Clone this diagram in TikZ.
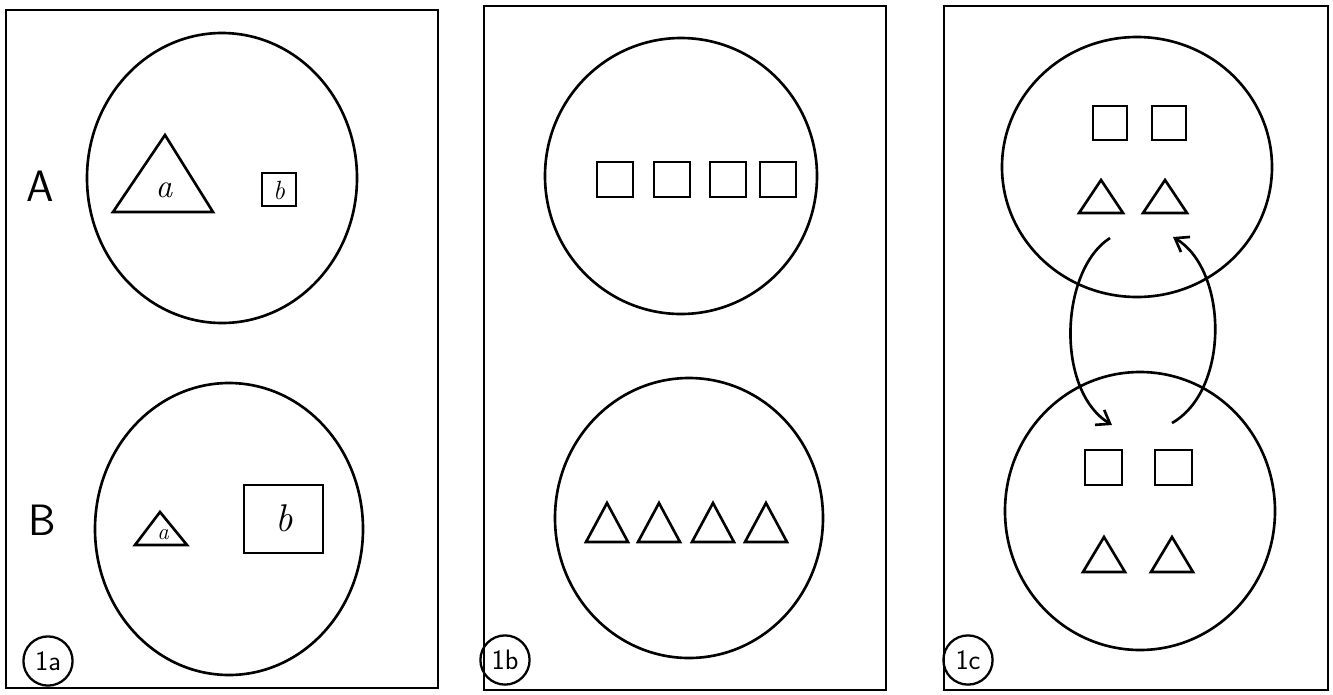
\documentclass[tikz,border=0pt]{standalone}
\usepackage{tikz}
\usetikzlibrary{arrows.meta}

\tikzset{
  panellabel/.style={draw,circle,line width=1.3pt,minimum size=28pt,inner sep=0pt,font=\sffamily\fontsize{16}{17}\selectfont},
  setlabel/.style={font=\sffamily\fontsize{25}{28}\selectfont},
  letter/.style={font=\itshape\fontsize{#1}{#1}\selectfont,inner sep=0pt}
}

\begin{document}
\begin{tikzpicture}[x=0.02cm,y=-0.02cm,line width=1.5pt,>={Straight Barb[length=7pt,width=10pt]}]
        \useasboundingbox (0,0) rectangle (1333,694);
        % 1a
        \draw (6,10) rectangle (438,688);
        \node[setlabel] (lA) at (40,186) {A};
        \node[setlabel] (lB) at (42,520) {B};
        \draw (222,178) ellipse [x radius=135,y radius=145];
        \draw (113,212) -- (165,135) -- (213,212) -- cycle;
        \node[letter=19] (aA) at (164,190) {a};
        \draw (262,173) rectangle (296,206);
        \node[letter=15] (bA) at (279,190) {b};
        \draw (229,529) ellipse [x radius=134,y radius=146];
        \draw (135,545) -- (160,512) -- (187,545) -- cycle;
        \node[letter=13] (aB) at (163,535) {a};
        \draw (244,485) rectangle (323,553);
        \node[letter=22] (bB) at (284,518) {b};
        \node[panellabel] (p1a) at (48,661) {1a};
        % 1b
        \draw (484,6) rectangle (886,690);
        \draw (681,176) ellipse [x radius=136,y radius=138];
        \foreach \x in {597,654,710,760}
            \draw (\x,162) rectangle ++(36,35);
        \draw (689,518) ellipse [x radius=134,y radius=140];
        \foreach \x in {586,638,692,745}
            \draw (\x,542) -- ++(21,-39) -- ++(21,39) -- cycle;
        \node[panellabel] (p1b) at (505,660) {1b};
        % 1c
        \draw (944,6) rectangle (1328,690);
        \draw (1137,167) ellipse [x radius=135,y radius=130];
        \foreach \x in {1093,1152}
            \draw (\x,106) rectangle ++(34,34);
        \foreach \x in {1079,1143}
            \draw (\x,213) -- ++(22,-33) -- ++(22,33) -- cycle;
        \draw (1140,511) ellipse [x radius=135,y radius=139];
        \foreach \x in {1085,1155}
            \draw (\x,450) rectangle ++(37,35);
        \foreach \x in {1083,1151}
            \draw (\x,572) -- ++(21,-35) -- ++(21,35) -- cycle;
        \coordinate (down0) at (1110,238);
        \coordinate (down1) at (1112,425);
        \coordinate (up0) at (1172,423);
        \coordinate (up1) at (1173,237);
        \draw [->] (down0) .. controls (1060,270) and (1055,390) .. (down1);
        \draw [->] (up0) .. controls (1230,390) and (1228,270) .. (up1);
        \node[panellabel] (p1c) at (968,660) {1c};
\end{tikzpicture}
\end{document}
